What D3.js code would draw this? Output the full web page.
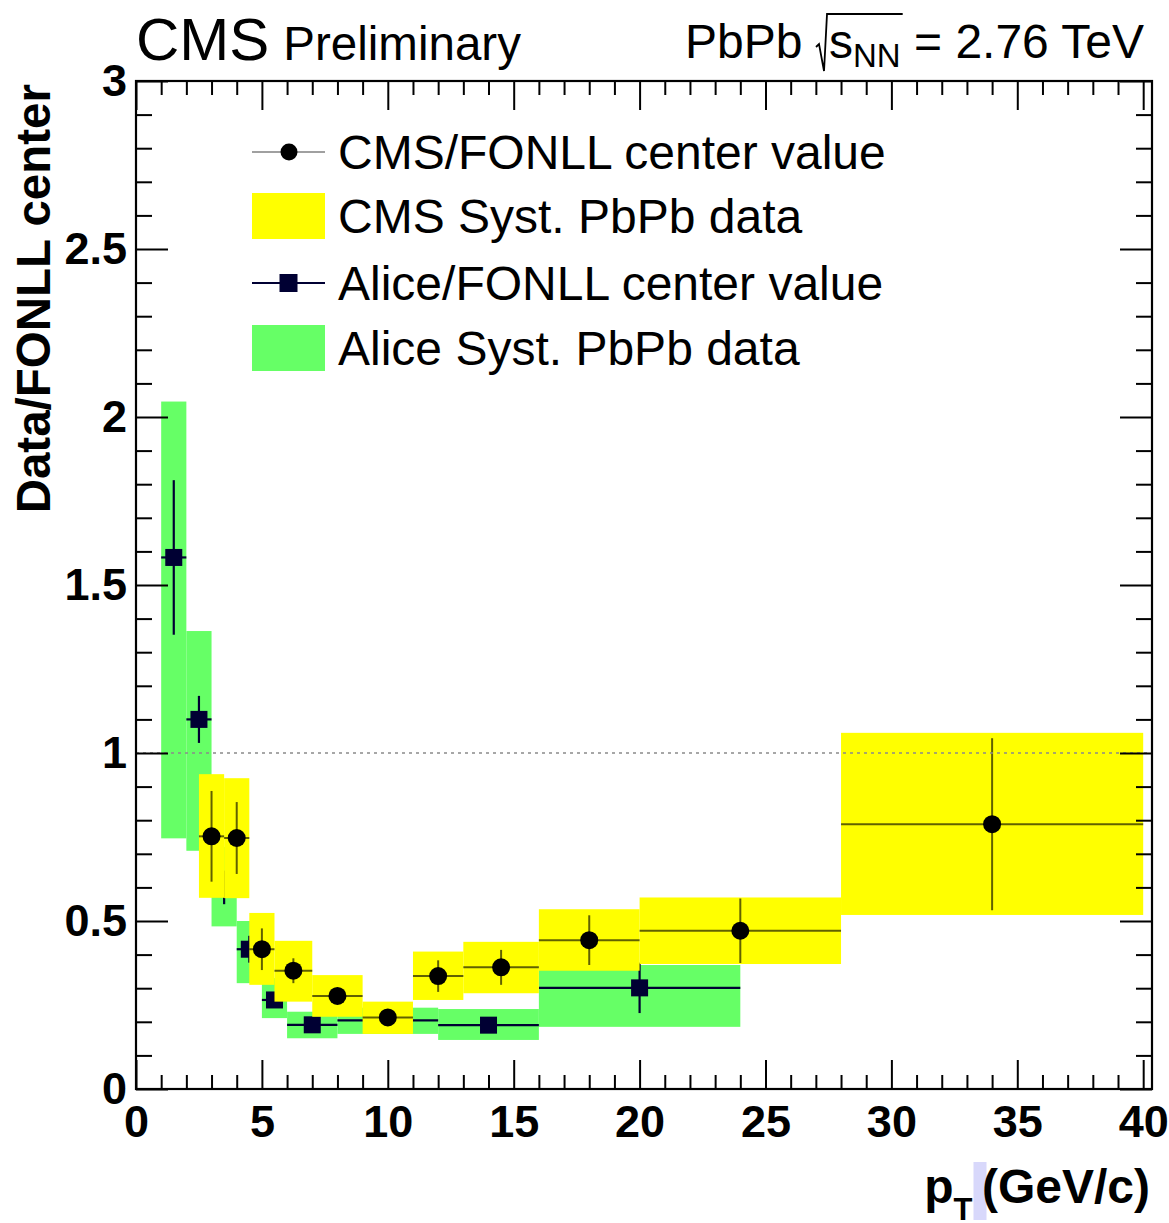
<!DOCTYPE html>
<html>
<head>
<meta charset="utf-8">
<script src="https://cdn.jsdelivr.net/npm/d3@7"></script>
<style>
  html, body { margin: 0; padding: 0; background: #fff; }
  svg { display: block; }
</style>
</head>
<body>
<svg id="chart" width="1169" height="1223"></svg>
<script>
// ---- CMS D0 / FONLL ratio (PbPb, 2.76 TeV) ----
const cmsPt      = [3, 4, 5, 6.25, 8, 10, 12, 14.5, 18, 24, 34];
const cmsBinLo   = [2.5, 3.5, 4.5, 5.5, 7, 9, 11, 13, 16, 20, 28];
const cmsBinHi   = [3.5, 4.5, 5.5, 7, 9, 11, 13, 16, 20, 28, 40];
const cmsRatio   = [0.752, 0.747, 0.416, 0.352, 0.277, 0.213, 0.336, 0.362, 0.443, 0.471, 0.788];
const cmsStat    = [0.135, 0.107, 0.062, 0.037, 0.020, 0.015, 0.047, 0.052, 0.074, 0.096, 0.256];
const cmsSystLo  = [0.569, 0.568, 0.310, 0.260, 0.215, 0.164, 0.265, 0.285, 0.352, 0.372, 0.518];
const cmsSystHi  = [0.937, 0.925, 0.524, 0.441, 0.339, 0.260, 0.409, 0.438, 0.535, 0.570, 1.060];

// ---- ALICE D0 / FONLL ratio ----
const alicePt     = [1.5, 2.5, 3.5, 4.5, 5.5, 7, 10, 14, 20];
const aliceBinLo  = [1, 2, 3, 4, 5, 6, 8, 12, 16];
const aliceBinHi  = [2, 3, 4, 5, 6, 8, 12, 16, 24];
const aliceRatio  = [1.582, 1.100, 0.600, 0.416, 0.265, 0.191, 0.204, 0.190, 0.301];
const aliceStat   = [0.230, 0.070, 0.050, 0.040, 0.020, 0.012, 0.012, 0.020, 0.075];
const aliceSystLo = [0.746, 0.709, 0.484, 0.315, 0.211, 0.151, 0.164, 0.146, 0.185];
const aliceSystHi = [2.046, 1.363, 0.720, 0.500, 0.330, 0.230, 0.242, 0.238, 0.369];

// ---- axis ticks ----
const xMajorTicks = [0, 5, 10, 15, 20, 25, 30, 35, 40];
const xMinorTicks = d3.range(0, 41).filter(v => v % 5 !== 0);
const yMajorTicks = [0, 0.5, 1, 1.5, 2, 2.5, 3];
const yMinorTicks = d3.range(0, 31).filter(i => i % 5 !== 0).map(i => i / 10);

const legendLabels = [
  "CMS/FONLL center value",
  "CMS Syst. PbPb data",
  "Alice/FONLL center value",
  "Alice Syst. PbPb data"
];

// ---- layout ----
const FONT = "'Liberation Sans', Arial, Helvetica, sans-serif";
const COL_YELLOW = "#ffff00";
const COL_GREEN = "#66ff66";
const COL_NAVY = "#000033";
const frame = { left: 136, right: 1152, top: 81, bottom: 1089 };

const svg = d3.select("#chart");
const x = d3.scaleLinear().domain([0, 40.35]).range([frame.left, frame.right]);
const y = d3.scaleLinear().domain([0, 3]).range([frame.bottom, frame.top]);

const cms = cmsPt.map((p, i) => ({
  pt: p, lo: cmsBinLo[i], hi: cmsBinHi[i], v: cmsRatio[i],
  stat: cmsStat[i], sLo: cmsSystLo[i], sHi: cmsSystHi[i]
}));
const alice = alicePt.map((p, i) => ({
  pt: p, lo: aliceBinLo[i], hi: aliceBinHi[i], v: aliceRatio[i],
  stat: aliceStat[i], sLo: aliceSystLo[i], sHi: aliceSystHi[i]
}));

const plot = svg.append("g");

// ALICE systematic boxes
plot.append("g").selectAll("rect").data(alice).join("rect")
  .attr("x", d => x(d.lo)).attr("width", d => x(d.hi) - x(d.lo))
  .attr("y", d => y(d.sHi)).attr("height", d => y(d.sLo) - y(d.sHi))
  .attr("fill", COL_GREEN);

// ALICE error bars and markers
const aG = plot.append("g").attr("stroke", COL_NAVY).attr("stroke-width", 2.2);
aG.selectAll("line.h").data(alice).join("line").attr("class", "h")
  .attr("x1", d => x(d.lo)).attr("x2", d => x(d.hi))
  .attr("y1", d => y(d.v)).attr("y2", d => y(d.v));
aG.selectAll("line.v").data(alice).join("line").attr("class", "v")
  .attr("x1", d => x(d.pt)).attr("x2", d => x(d.pt))
  .attr("y1", d => y(d.v - d.stat)).attr("y2", d => y(d.v + d.stat));
plot.append("g").selectAll("rect").data(alice).join("rect")
  .attr("x", d => x(d.pt) - 8.5).attr("y", d => y(d.v) - 8.5)
  .attr("width", 17).attr("height", 17).attr("fill", COL_NAVY);

// CMS systematic boxes
plot.append("g").selectAll("rect").data(cms).join("rect")
  .attr("x", d => x(d.lo)).attr("width", d => x(d.hi) - x(d.lo))
  .attr("y", d => y(d.sHi)).attr("height", d => y(d.sLo) - y(d.sHi))
  .attr("fill", COL_YELLOW);

// CMS error bars and markers
const cG = plot.append("g").attr("stroke", "#000").attr("stroke-opacity", 0.62).attr("stroke-width", 2);
cG.selectAll("line.h").data(cms).join("line").attr("class", "h")
  .attr("x1", d => x(d.lo)).attr("x2", d => x(d.hi))
  .attr("y1", d => y(d.v)).attr("y2", d => y(d.v));
cG.selectAll("line.v").data(cms).join("line").attr("class", "v")
  .attr("x1", d => x(d.pt)).attr("x2", d => x(d.pt))
  .attr("y1", d => y(d.v - d.stat)).attr("y2", d => y(d.v + d.stat));
plot.append("g").selectAll("circle").data(cms).join("circle")
  .attr("cx", d => x(d.pt)).attr("cy", d => y(d.v)).attr("r", 9).attr("fill", "#000");

// reference line at ratio = 1
plot.append("line")
  .attr("x1", x(0)).attr("x2", frame.right).attr("y1", y(1)).attr("y2", y(1))
  .attr("stroke", "#8a8a8a").attr("stroke-width", 1.6).attr("stroke-dasharray", "3,4");

// ---- axes ----
function styleAxis(g, labels) {
  g.select(".domain").remove();
  g.selectAll(".tick line").attr("stroke", "#000").attr("stroke-width", 2);
  g.attr("font-family", FONT).attr("font-size", 45).attr("font-weight", "bold");
  if (!labels) g.selectAll(".tick text").remove();
  else g.selectAll(".tick text").attr("fill", "#000");
}
const xMajor = d3.axisBottom(x).tickValues(xMajorTicks).tickSizeInner(-29).tickSizeOuter(0).tickPadding(16).tickFormat(d3.format("d"));
const xMinor = d3.axisBottom(x).tickValues(xMinorTicks).tickSizeInner(-14).tickSizeOuter(0).tickFormat("");
svg.append("g").attr("transform", `translate(0,${frame.bottom})`).call(xMajor).call(g => styleAxis(g, true));
svg.append("g").attr("transform", `translate(0,${frame.bottom})`).call(xMinor).call(g => styleAxis(g, false));
svg.append("g").attr("transform", `translate(0,${frame.top})`).call(d3.axisTop(x).tickValues(xMajorTicks).tickSizeInner(-29).tickSizeOuter(0)).call(g => styleAxis(g, false));
svg.append("g").attr("transform", `translate(0,${frame.top})`).call(d3.axisTop(x).tickValues(xMinorTicks).tickSizeInner(-14).tickSizeOuter(0)).call(g => styleAxis(g, false));

const yMajor = d3.axisLeft(y).tickValues(yMajorTicks).tickSizeInner(-32).tickSizeOuter(0).tickPadding(9).tickFormat(d3.format("~g"));
svg.append("g").attr("transform", `translate(${frame.left},0)`).call(yMajor).call(g => styleAxis(g, true));
svg.append("g").attr("transform", `translate(${frame.left},0)`).call(d3.axisLeft(y).tickValues(yMinorTicks).tickSizeInner(-16).tickSizeOuter(0)).call(g => styleAxis(g, false));
svg.append("g").attr("transform", `translate(${frame.right},0)`).call(d3.axisRight(y).tickValues(yMajorTicks).tickSizeInner(-32).tickSizeOuter(0)).call(g => styleAxis(g, false));
svg.append("g").attr("transform", `translate(${frame.right},0)`).call(d3.axisRight(y).tickValues(yMinorTicks).tickSizeInner(-16).tickSizeOuter(0)).call(g => styleAxis(g, false));

// frame
svg.append("rect")
  .attr("x", frame.left).attr("y", frame.top)
  .attr("width", frame.right - frame.left).attr("height", frame.bottom - frame.top)
  .attr("fill", "none").attr("stroke", "#000").attr("stroke-width", 2.2);

// ---- axis titles ----
svg.append("text")
  .attr("transform", `translate(50,${frame.top + 3}) rotate(-90)`)
  .attr("text-anchor", "end")
  .attr("font-family", FONT).attr("font-weight", "bold").attr("font-size", 47.5)
  .text("Data/FONLL center");

const selMark = svg.append("rect").attr("fill", "#d8d8fb");
const xt = svg.append("text")
  .attr("x", 1150).attr("y", 1203)
  .attr("text-anchor", "end")
  .attr("font-family", FONT).attr("font-weight", "bold").attr("font-size", 48);
xt.append("tspan").text("p");
xt.append("tspan").attr("font-size", 31).attr("dy", 17).text("T");
xt.append("tspan").attr("dy", -17).attr("font-size", 34).text("\u00a0");
xt.append("tspan").text("(GeV/c)");
// light selection mark on the gap after p_T
{
  const ext = xt.node().getExtentOfChar(2);
  selMark.attr("x", ext.x + 1).attr("y", 1162)
    .attr("width", 13).attr("height", 58);
}

// ---- header ----
const hdr = svg.append("text")
  .attr("x", frame.left).attr("y", 60)
  .attr("font-family", FONT).attr("font-size", 60);
hdr.append("tspan").text("CMS");
hdr.append("tspan").attr("dx", 14).attr("font-size", 47.5).text("Preliminary");

const eTxt = svg.append("text")
  .attr("x", 1144).attr("y", 58)
  .attr("text-anchor", "end")
  .attr("font-family", FONT).attr("font-size", 48);
eTxt.append("tspan").text("PbPb\u00a0\u00a0");
eTxt.append("tspan").text("s");
eTxt.append("tspan").attr("font-size", 33).attr("dy", 9).text("NN");
eTxt.append("tspan").attr("dy", -9).text(" = 2.76 TeV");
{
  const n = eTxt.node();
  const sStart = n.getStartPositionOfChar(6).x;     // "s"
  const nnEnd = n.getEndPositionOfChar(8).x;        // last "N"
  const r0 = sStart - 13;
  svg.append("path")
    .attr("d", `M${r0},47 L${r0 + 3},44 L${r0 + 8},71 L${r0 + 11},14 L${nnEnd + 2},14`)
    .attr("fill", "none").attr("stroke", "#000").attr("stroke-width", 1.8);
}

// ---- legend ----
const lg = svg.append("g");
const legY = [152, 216, 283, 348];
const lx0 = 252, lx1 = 325, lxm = (lx0 + lx1) / 2;
lg.append("line").attr("x1", lx0).attr("x2", lx1).attr("y1", legY[0]).attr("y2", legY[0])
  .attr("stroke", "#a0a0a0").attr("stroke-width", 2.2);
lg.append("circle").attr("cx", lxm + 0.5).attr("cy", legY[0]).attr("r", 8.5).attr("fill", "#000");
lg.append("rect").attr("x", lx0).attr("y", legY[1] - 23).attr("width", lx1 - lx0).attr("height", 46).attr("fill", COL_YELLOW);
lg.append("line").attr("x1", lx0).attr("x2", lx1).attr("y1", legY[2]).attr("y2", legY[2])
  .attr("stroke", COL_NAVY).attr("stroke-width", 2.2);
lg.append("rect").attr("x", lxm - 9).attr("y", legY[2] - 9).attr("width", 18).attr("height", 18).attr("fill", COL_NAVY);
lg.append("rect").attr("x", lx0).attr("y", legY[3] - 23).attr("width", lx1 - lx0).attr("height", 46).attr("fill", COL_GREEN);
lg.selectAll("text").data(legendLabels).join("text")
  .attr("x", 338).attr("y", (d, i) => legY[i] + 17)
  .attr("font-family", FONT).attr("font-size", 48)
  .text(d => d);
</script>
</body>
</html>
